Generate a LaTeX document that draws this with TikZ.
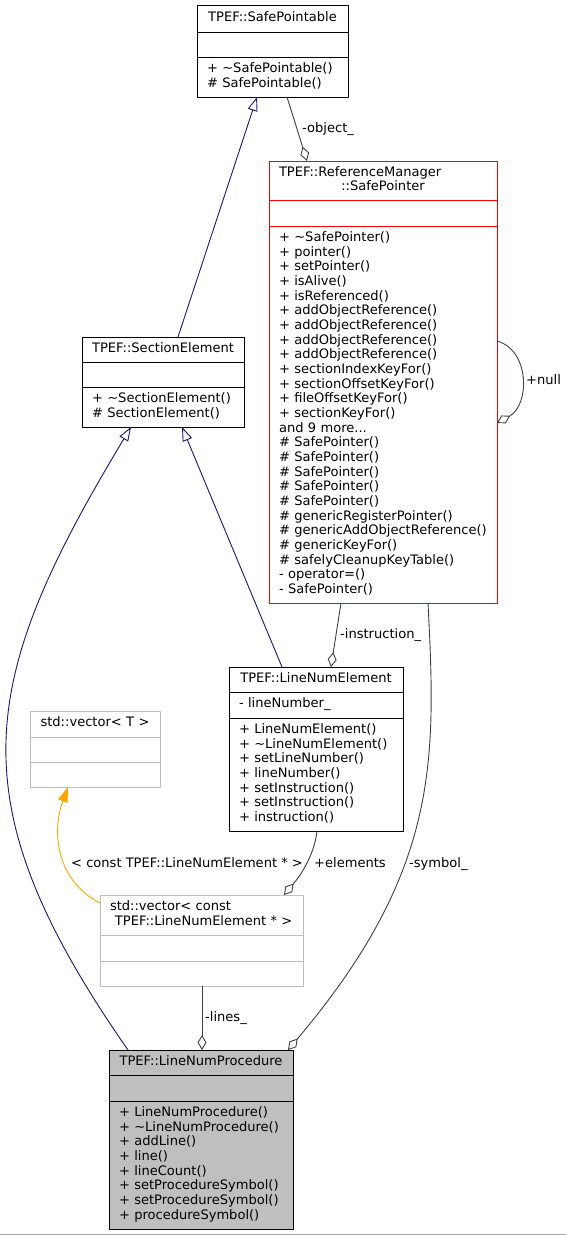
\documentclass[tikz,border=0pt]{standalone}
\usepackage{fontspec}
\setmainfont{DejaVu Sans}
\usetikzlibrary{positioning,arrows.meta}
\definecolor{inhblue}{HTML}{191970}
\definecolor{usegrey}{HTML}{404040}
\definecolor{tmplorange}{HTML}{FFA500}
\definecolor{boxgrey}{HTML}{BFBFBF}
\definecolor{boxred}{HTML}{FF0000}
\newcommand{\dvs}{\fontsize{13.05}{14.67}\selectfont}
\begin{document}
\begin{tikzpicture}[x=1pt, y=-1pt, font=\dvs, line join=round, line cap=round,
  box/.style={draw, rectangle, outer sep=0pt, inner xsep=10pt, inner ysep=0pt, align=left, line width=1pt,
    execute at begin node=\strut, execute at end node=\strut},
  hd/.style={box, align=center},
  lbl/.style={inner sep=0pt, anchor=base west},
  inherit/.style={draw=inhblue, line width=0.9pt, -{Triangle[open, length=14pt, width=10pt]}},
  aggr/.style={draw=usegrey, line width=0.9pt, -{Diamond[open, length=15pt, width=9pt]}},
  tmpl/.style={draw=tmplorange, line width=0.9pt, -{Triangle[length=15pt, width=10pt]}}]
	\useasboundingbox (0,0) rectangle (566,1235);
	\fill[black!35] (0,1234) rectangle (566,1235);
	% TPEF::SafePointable
	\node[hd, text width=131pt, minimum height=27pt, anchor=north west] (spa) at (197,5) {TPEF::SafePointable};
	\node[box, text width=131pt, minimum height=25pt, below=0pt of spa] (spaA) {};
	\node[box, text width=131pt, minimum height=40pt, below=0pt of spaA] (spaM) {+ \textasciitilde SafePointable()\\\# SafePointable()};
	% TPEF::ReferenceManager::SafePointer
	\node[box, draw=boxred, text width=208pt, minimum height=39pt, anchor=north west] (spr) at (269,161) {TPEF::ReferenceManager\\\makebox[\hsize]{::SafePointer}};
	\node[box, draw=boxred, text width=208pt, minimum height=26pt, below=0pt of spr] (sprA) {};
	\node[box, draw=boxred, text width=208pt, minimum height=377pt, below=0pt of sprA] (sprM) {+ \textasciitilde SafePointer()\\+ pointer()\\+ setPointer()\\+ isAlive()\\+ isReferenced()\\+ addObjectReference()\\+ addObjectReference()\\+ addObjectReference()\\+ addObjectReference()\\+ sectionIndexKeyFor()\\+ sectionOffsetKeyFor()\\+ fileOffsetKeyFor()\\+ sectionKeyFor()\\and 9 more...\\\# SafePointer()\\\# SafePointer()\\\# SafePointer()\\\# SafePointer()\\\# SafePointer()\\\# genericRegisterPointer()\\\# genericAddObjectReference()\\\# genericKeyFor()\\\# safelyCleanupKeyTable()\\- operator=()\\- SafePointer()};
	% TPEF::SectionElement
	\node[hd, text width=142pt, minimum height=25pt, anchor=north west] (sec) at (82,337) {TPEF::SectionElement};
	\node[box, text width=142pt, minimum height=25pt, below=0pt of sec] (secA) {};
	\node[box, text width=142pt, minimum height=40pt, below=0pt of secA] (secM) {+ \textasciitilde SectionElement()\\\# SectionElement()};
	% TPEF::LineNumElement
	\node[hd, text width=154pt, minimum height=25pt, anchor=north west] (lne) at (229,667) {TPEF::LineNumElement};
	\node[box, text width=154pt, minimum height=26pt, below=0pt of lne] (lneA) {- lineNumber\_};
	\node[box, text width=154pt, minimum height=113pt, below=0pt of lneA] (lneM) {+ LineNumElement()\\+ \textasciitilde LineNumElement()\\+ setLineNumber()\\+ lineNumber()\\+ setInstruction()\\+ setInstruction()\\+ instruction()};
	% std::vector< T >
	\node[hd, draw=boxgrey, text width=110pt, minimum height=26pt, anchor=north west] (vect) at (30,711) {std::vector< T >};
	\node[box, draw=boxgrey, text width=110pt, minimum height=25pt, below=0pt of vect] (vectA) {};
	\node[box, draw=boxgrey, text width=110pt, minimum height=25pt, below=0pt of vectA] (vectM) {};
	% std::vector< const TPEF::LineNumElement * >
	\node[box, draw=boxgrey, text width=183pt, minimum height=40pt, anchor=north west] (vecc) at (100,895) {std::vector< const\\\makebox[\hsize]{ TPEF::LineNumElement * >}};
	\node[box, draw=boxgrey, text width=183pt, minimum height=26pt, below=0pt of vecc] (veccA) {};
	\node[box, draw=boxgrey, text width=183pt, minimum height=25pt, below=0pt of veccA] (veccM) {};
	% TPEF::LineNumProcedure
	\node[hd, fill=boxgrey, text width=164pt, minimum height=25pt, anchor=north west] (lnp) at (109,1050) {TPEF::LineNumProcedure};
	\node[box, fill=boxgrey, text width=164pt, minimum height=26pt, below=0pt of lnp] (lnpA) {};
	\node[box, fill=boxgrey, text width=164pt, minimum height=128pt, below=0pt of lnpA] (lnpM) {+ LineNumProcedure()\\+ \textasciitilde LineNumProcedure()\\+ addLine()\\+ line()\\+ lineCount()\\+ setProcedureSymbol()\\+ setProcedureSymbol()\\+ procedureSymbol()};
	% inheritance
	\draw[inherit] ([xshift=96pt]sec.north west) -- ([xshift=60pt]spaM.south west);
	\draw[inherit] ([xshift=53pt]lne.north west) -- ([xshift=100pt]secM.south west);
	\draw[inherit] ([xshift=19pt]lnp.north west) .. controls (-46,800) and (-22,681) .. ([xshift=49pt]secM.south west);
	% usage
	\draw[aggr] ([xshift=90pt]spaM.south west) -- ([xshift=38pt]spr.north west);
	\draw[aggr] ([yshift=-115pt]sprA.south east) .. controls (530,350) and (530,405) .. ([yshift=-197pt]sprA.south east);
	\draw[aggr] ([xshift=72pt]sprM.south west) -- ([xshift=102pt]lne.north west);
	\draw[aggr] ([xshift=159pt]sprM.south west) .. controls (436,760) and (440,870) .. ([xshift=179pt]lnp.north west);
	\draw[aggr] ([xshift=88pt]lneM.south west) .. controls (315,850) and (305,870) .. ([xshift=184pt]vecc.north west);
	\draw[aggr] ([xshift=102pt]veccM.south west) -- ([xshift=93pt]lnp.north west);
	\draw[tmpl] ([yshift=-8pt]vecc.north west) .. controls (55,880) and (52,830) .. ([xshift=38pt]vectM.south west);
	% labels
	\node[lbl] (lObj) at (302,132) {-object\_};
	\node[lbl] (lNull) at (526,384) {+null};
	\node[lbl] (lIns) at (340,638) {-instruction\_};
	\node[lbl] (lElem) at (314,867) {+elements};
	\node[lbl] (lSym) at (409,867) {-symbol\_};
	\node[lbl] (lTmpl) at (71,867) {< const TPEF::LineNumElement * >};
	\node[lbl] (lLines) at (205,1021) {-lines\_};
\end{tikzpicture}
\end{document}
